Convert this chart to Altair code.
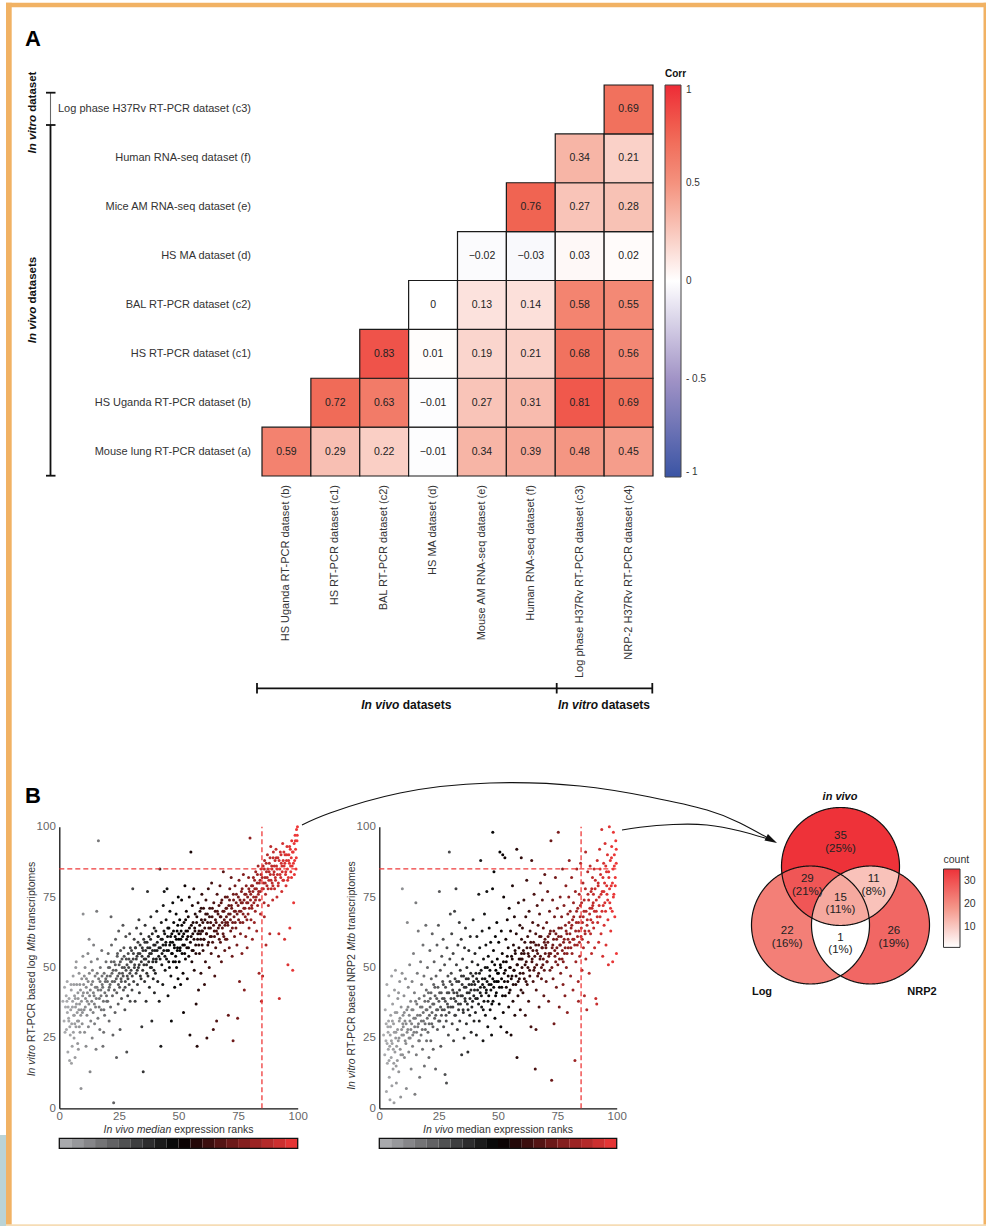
import altair as alt
import numpy as np
import pandas as pd

W, H = 986, 1226
FONT = "Liberation Sans"

# ---------------- Panel A : correlation matrix ----------------
COLS = ["b", "c1", "c2", "d", "e", "f", "c3", "c4"]
COL_LABELS = ["HS Uganda RT-PCR dataset (b)", "HS RT-PCR dataset (c1)", "BAL RT-PCR dataset (c2)",
              "HS MA dataset (d)", "Mouse AM RNA-seq dataset (e)", "Human RNA-seq dataset (f)",
              "Log phase H37Rv RT-PCR dataset (c3)", "NRP-2 H37Rv RT-PCR dataset (c4)"]
ROWS = ["a", "b", "c1", "c2", "d", "e", "f", "c3"]          # bottom -> top
ROW_LABELS = ["Mouse lung RT-PCR dataset (a)", "HS Uganda RT-PCR dataset (b)", "HS RT-PCR dataset (c1)",
              "BAL RT-PCR dataset (c2)", "HS MA dataset (d)", "Mice AM RNA-seq dataset (e)",
              "Human RNA-seq dataset (f)", "Log phase H37Rv RT-PCR dataset (c3)"]
CORR_a = [0.59, 0.29, 0.22, -0.01, 0.34, 0.39, 0.48, 0.45]
CORR_b = [0.72, 0.63, -0.01, 0.27, 0.31, 0.81, 0.69]
CORR_c1 = [0.83, 0.01, 0.19, 0.21, 0.68, 0.56]
CORR_c2 = [0.00, 0.13, 0.14, 0.58, 0.55]
CORR_d = [-0.02, -0.03, 0.03, 0.02]
CORR_e = [0.76, 0.27, 0.28]
CORR_f = [0.34, 0.21]
CORR_c3 = [0.69]
CORR_ROWS = [CORR_a, CORR_b, CORR_c1, CORR_c2, CORR_d, CORR_e, CORR_f, CORR_c3]
CORR_TICKS = [-1, -0.5, 0, 0.5, 1]

# ---------------- Panel B : scatter data (x = in vivo rank, y = in vitro rank) ----------------
LOG_POINTS = [
 (2.2,43),(2.6,36),(3.0,28),(3.3,45),(3.6,20),(3.9,32),(4.1,39),(4.3,17),(4.6,26),(4.8,35),(5.0,42),(5.2,30),
 (5.4,22),(5.6,38),(5.8,47),(6.0,33),(6.2,25),(6.4,40),(6.6,18),(6.8,36),(7.0,29),(7.1,52),(7.3,44),(7.5,34),
 (7.7,23),(7.9,39),(8.1,31),(8.3,48),(8.5,37),(8.7,27),(8.9,42),(9.1,7),(9.2,35),(9.4,46),(9.6,30),(9.8,40),
 (9.9,54),(5.1,16),(6.9,50),(4.0,31),(8.0,21),(3.2,38),(6.1,44),(7.8,41),(9.0,33),
 (10.2,44),(10.4,35),(10.6,27),(10.8,50),(11.0,39),(11.2,22),(11.4,46),(11.6,33),(11.8,41),(12.0,55),(12.2,29),
 (12.4,37),(12.6,48),(12.9,13),(13.0,42),(13.2,31),(13.4,52),(13.6,38),(13.8,25),(14.0,45),(14.2,34),(14.4,58),
 (14.6,40),(14.8,30),(15.0,47),(15.2,36),(15.4,21),(15.7,70),(15.8,43),(16.0,53),(16.2,32),(16.4,95),(16.5,46),
 (16.8,39),(17.0,28),(17.2,50),(17.4,42),(17.6,35),(17.8,56),(18.0,44),(18.3,22),(18.5,38),(18.8,48),(19.0,33),
 (19.3,45),(19.6,52),(19.8,40),(10.0,69),(12.5,60),(18.6,27),
 (20.1,47),(20.3,38),(20.5,55),(20.7,42),(20.9,31),(21.1,50),(21.3,44),(21.5,36),(21.7,68),(21.9,58),(22.1,48),
 (22.3,40),(22.5,26),(22.8,2),(23.0,52),(23.2,45),(23.4,34),(23.6,60),(23.8,49),(24.0,18),(24.1,41),(24.3,54),
 (24.5,47),(24.7,37),(24.9,63),(25.1,51),(25.3,43),(25.5,28),(25.7,56),(25.9,46),(26.1,39),(26.3,53),(26.5,48),
 (26.7,65),(26.9,42),(27.1,57),(27.3,50),(27.5,35),(27.7,45),(27.9,61),(28.1,53),(28.3,20),(28.5,47),(28.7,40),
 (28.9,55),(29.1,50),(29.3,44),(29.5,62),(29.7,38),(29.9,52),
 (30.1,49),(30.3,56),(30.5,42),(30.8,78),(31.0,53),(31.2,45),(31.4,60),(31.6,51),(31.8,38),(32.0,57),(32.2,48),
 (32.4,64),(32.6,54),(32.8,44),(33.0,59),(33.2,50),(33.4,67),(33.6,41),(33.8,55),(34.0,47),(34.2,62),(34.4,52),
 (34.6,29),(34.8,57),(35.0,49),(35.2,13),(35.4,60),(35.6,53),(35.8,45),(36.0,65),(36.2,56),(36.4,38),(36.6,51),
 (36.8,59),(37.0,77),(37.2,47),(37.4,54),(37.6,61),(37.8,43),(38.0,57),(38.2,50),(38.4,68),(38.6,55),(38.8,31),
 (39.0,62),(39.2,52),(39.4,46),(39.6,58),(39.8,64),(39.9,41),
 (40.1,56),(40.3,48),(40.5,63),(40.7,53),(40.9,70),(41.1,59),(41.3,45),(41.5,61),(41.7,54),(41.9,38),(42.2,85),
 (42.4,57),(42.6,22),(42.8,66),(43.0,51),(43.2,60),(43.4,44),(43.6,72),(43.8,56),(44.0,77),(44.2,62),(44.4,49),
 (44.6,58),(44.8,67),(45.0,53),(45.2,78),(45.4,61),(45.6,40),(45.8,56),(46.0,64),(46.2,50),(46.4,70),(46.6,59),
 (46.8,47),(47.0,31),(47.2,62),(47.4,55),(47.6,73),(47.8,52),(48.0,66),(48.2,58),(48.4,43),(48.6,61),(48.8,54),
 (49.0,69),(49.2,50),(49.4,63),(49.6,57),(49.8,46),(49.9,75),
 (50.1,60),(50.3,52),(50.5,67),(50.7,57),(50.9,44),(51.1,63),(51.3,74),(51.5,55),(51.7,61),(51.9,48),(52.1,34),
 (52.3,66),(52.5,58),(52.7,79),(52.9,53),(53.1,63),(53.3,70),(53.5,57),(53.7,46),(53.9,61),(54.1,68),(54.3,54),
 (54.5,75),(54.8,26),(55.0,59),(55.2,91),(55.4,65),(55.6,52),(55.8,72),(56.0,62),(56.2,56),(56.4,78),(56.6,49),
 (56.8,64),(57.0,69),(57.2,58),(57.4,37),(57.6,66),(57.8,22),(58.0,60),(58.2,73),(58.4,42),(58.6,63),(58.8,55),
 (59.0,70),(59.2,62),(59.4,48),(59.6,67),(59.8,76),(59.9,58),
 (60.1,63),(60.3,56),(60.5,71),(60.7,60),(60.9,44),(61.1,67),(61.3,52),(61.5,74),(61.7,62),(61.9,25),(62.1,69),
 (62.3,58),(62.5,78),(62.7,64),(62.9,50),(63.1,71),(63.3,61),(63.5,66),(63.7,55),(63.9,80),(64.1,68),(64.3,59),
 (64.6,28),(64.8,73),(65.0,63),(65.2,47),(65.4,70),(65.6,57),(65.8,66),(66.0,31),(66.2,76),(66.4,62),(66.6,69),
 (66.8,54),(67.0,72),(67.2,65),(67.4,79),(67.6,59),(67.8,68),(68.0,52),(68.2,74),(68.4,64),(68.6,70),(68.8,84),
 (69.0,61),(69.2,67),(69.4,56),(69.6,75),(69.8,66),(69.9,71),
 (70.1,68),(70.3,60),(70.5,75),(70.7,65),(70.9,33),(71.1,72),(71.3,57),(71.5,78),(71.7,69),(71.9,63),(72.1,82),
 (72.3,71),(72.5,54),(72.7,66),(72.9,24),(73.1,74),(73.3,68),(73.5,61),(73.7,79),(73.9,70),(74.1,64),(74.3,76),
 (74.5,58),(74.8,32),(75.0,72),(75.2,67),(75.4,81),(75.6,45),(75.8,74),(76.0,62),(76.2,70),(76.4,77),(76.6,55),
 (76.8,73),(77.0,66),(77.2,83),(77.4,71),(77.6,42),(77.8,76),(78.0,68),(78.2,61),(78.4,79),(78.6,73),(78.8,57),
 (79.0,75),(79.2,69),(79.4,82),(79.6,64),(79.8,77),(80.0,96),
 (80.2,74),(80.4,67),(80.6,79),(80.8,71),(81.0,60),(81.2,77),(81.4,82),(81.6,73),(81.8,66),(82.0,78),(82.2,70),
 (82.4,84),(82.6,75),(82.8,63),(83.0,80),(83.2,72),(83.4,86),(83.6,77),(83.8,48),(84.0,74),(84.2,81),(84.4,69),
 (84.6,83),(84.8,38),(85.0,78),(85.3,47),(85.5,86),(85.7,80),(85.9,73),(86.1,88),(86.3,82),(86.5,76),(86.7,58),
 (86.9,84),(87.1,79),(87.3,90),(87.5,85),(87.7,72),(87.9,81),(88.1,87),(88.3,62),(88.5,83),(88.7,93),(88.9,78),
 (89.1,86),(89.3,80),(89.5,74),(89.7,89),(89.9,83),(86.0,68),
 (90.1,84),(90.3,78),(90.5,88),(90.7,81),(90.9,92),(91.1,86),(91.3,75),(91.5,83),(91.7,89),(91.9,80),(92.1,62),
 (92.3,39),(92.5,85),(92.7,91),(92.9,82),(93.1,87),(93.3,77),(93.5,84),(93.7,94),(93.9,88),(94.1,81),(94.3,86),
 (94.5,60),(94.7,90),(94.9,83),(95.1,79),(95.3,88),(95.5,93),(95.7,85),(95.9,51),(96.1,82),(96.3,90),(96.5,87),
 (96.7,64),(96.9,92),(97.1,84),(97.3,89),(97.5,95),(97.7,86),(97.9,49),(98.1,91),(98.3,73),(98.5,94),(98.7,88),
 (98.9,97),(99.1,92),(99.3,85),(99.5,99),(99.7,95),(99.9,100),
]
LOG_CORE = [
 (1.5,38),(2.0,31),(2.9,40),(3.4,34),(4.4,29),(4.9,44),(5.5,36),(5.9,27),(6.3,33),(6.7,39),(7.2,37),(7.6,31),
 (8.2,35),(8.6,44),(9.3,38),(9.7,34),(3.7,36),(6.5,30),(8.4,29),(2.4,27),
 (10.1,41),(10.5,47),(10.9,36),(11.3,43),(11.7,38),(12.1,45),(12.7,40),(13.1,35),(13.5,44),(13.9,49),(14.3,41),
 (14.7,37),(15.1,43),(15.5,39),(15.9,48),(16.3,42),(16.7,36),(17.1,45),(17.5,40),(17.9,47),(18.2,43),(18.7,35),
 (19.1,41),(19.5,46),(19.9,38),
 (20.2,45),(20.6,50),(21.0,43),(21.4,47),(21.8,52),(22.2,45),(22.6,49),(23.1,42),(23.5,51),(23.9,46),(24.4,55),
 (24.8,44),(25.2,48),(25.6,52),(26.0,45),(26.4,50),(26.8,47),(27.2,54),(27.6,43),(28.0,49),(28.4,51),(28.8,46),
 (29.2,53),(29.6,48),(29.8,57),
 (30.2,52),(30.6,47),(31.1,55),(31.5,50),(31.9,57),(32.3,53),(32.7,49),(33.1,55),(33.5,51),(33.9,58),(34.3,46),
 (34.7,54),(35.1,56),(35.5,51),(35.9,59),(36.3,53),(36.7,48),(37.1,57),(37.5,52),(37.9,55),(38.3,60),(38.7,50),
 (39.1,56),(39.5,53),(39.7,49),
 (40.2,58),(40.6,52),(41.0,56),(41.4,61),(41.8,57),(42.3,53),(42.7,60),(43.1,55),(43.5,58),(43.9,63),(44.3,54),
 (44.7,59),(45.1,56),(45.5,64),(45.9,52),(46.3,58),(46.7,61),(47.1,55),(47.5,59),(47.9,63),(48.3,57),(48.7,52),
 (49.1,60),(49.5,56),(49.7,65),
 (50.2,62),(50.6,56),(51.0,60),(51.4,65),(51.8,58),(52.2,62),(52.6,55),(53.0,67),(53.4,60),(53.8,63),(54.2,57),
 (54.6,64),(55.3,61),(55.7,56),(56.1,66),(56.5,60),(56.9,63),(57.3,55),(57.7,68),(58.1,62),(58.5,58),(58.9,65),
 (59.3,60),(59.7,63),(59.5,71),
 (60.2,66),(60.6,60),(61.0,64),(61.4,69),(61.8,62),(62.2,66),(62.6,59),(63.0,68),(63.4,64),(63.8,61),(64.2,71),
 (64.7,65),(65.1,61),(65.5,67),(65.9,63),(66.3,70),(66.7,64),(67.1,60),(67.5,68),(67.9,73),(68.3,66),(68.7,62),
 (69.1,70),(69.5,65),(69.7,60),
 (70.2,71),(70.6,66),(71.0,69),(71.4,74),(71.8,67),(72.2,72),(72.6,64),(73.0,76),(73.4,70),(73.8,66),(74.2,73),
 (74.6,69),(75.1,75),(75.5,70),(75.9,66),(76.3,73),(76.7,78),(77.1,69),(77.5,74),(77.9,71),(78.3,76),(78.7,67),
 (79.1,73),(79.5,78),(79.7,71),
 (80.3,76),(80.7,72),(81.1,79),(81.5,75),(81.9,81),(82.3,74),(82.7,78),(83.1,83),(83.5,76),(83.9,80),(84.3,77),
 (84.7,85),(85.1,82),(85.6,78),(86.0,85),(86.4,80),(86.8,87),(87.2,82),(87.6,78),(88.0,84),(88.4,89),(88.8,81),
 (89.2,85),(89.6,79),(89.8,91),
 (90.2,86),(90.6,82),(91.0,89),(91.4,85),(91.8,79),(92.2,88),(92.6,83),(93.0,90),(93.4,86),(93.8,81),(94.2,91),
 (94.6,87),(95.0,84),(95.4,90),(95.8,81),(96.2,88),(96.6,93),(97.0,86),(97.4,82),(97.8,91),(98.2,87),(98.6,83),
 (99.0,95),(99.4,89),(99.8,97),
]

NRP2_POINTS = [
 (2.5,35),(2.8,24),(3.0,6),(3.2,44),(3.4,16),(3.6,29),(3.8,21),(4.0,40),(4.2,11),(4.5,3),(4.6,26),(4.8,33),
 (5.0,18),(5.2,47),(5.4,23),(5.6,37),(5.8,14),(6.0,30),(6.2,2),(6.4,42),(6.6,20),(6.8,49),(7.0,27),(7.2,9),
 (7.4,34),(7.6,17),(7.8,39),(8.0,24),(8.2,13),(8.4,31),(8.6,45),(8.8,21),(9.0,4),(9.2,36),(9.4,28),(9.6,48),
 (9.7,78),(9.8,19),(10.0,33),(5.3,8),(6.9,25),(3.9,31),(8.1,41),(4.4,22),(7.1,15),
 (10.2,26),(10.4,40),(10.6,18),(10.8,31),(11.0,46),(11.2,23),(11.4,7),(11.6,35),(11.8,66),(12.0,28),(12.2,43),
 (12.4,20),(12.6,33),(12.8,51),(13.0,25),(13.2,38),(13.4,14),(13.6,30),(13.8,45),(14.0,22),(14.2,35),(14.4,55),
 (14.6,27),(14.8,41),(15.0,5),(15.2,32),(15.4,73),(15.6,19),(15.8,37),(16.0,48),(16.2,29),(16.4,63),(16.6,24),
 (16.8,39),(17.0,11),(17.2,33),(17.4,52),(17.6,26),(17.8,44),(18.0,36),(18.2,21),(18.4,58),(18.6,31),(18.8,47),
 (19.0,15),(19.2,38),(19.4,28),(19.6,65),(19.8,42),(19.9,24),
 (20.1,35),(20.3,50),(20.5,27),(20.7,41),(20.9,18),(21.1,33),(21.3,56),(21.5,39),(21.7,24),(21.9,46),(22.1,30),
 (22.3,62),(22.5,37),(22.7,21),(22.9,44),(23.1,52),(23.3,32),(23.5,40),(23.7,14),(23.9,47),(24.1,35),(24.3,58),
 (24.5,28),(24.7,43),(24.9,65),(25.1,38),(25.3,77),(25.5,31),(25.7,49),(25.9,22),(26.1,41),(26.3,54),(26.5,35),
 (26.7,45),(26.9,60),(27.1,29),(27.3,39),(27.5,51),(27.7,12),(27.9,43),(28.1,33),(28.3,9),(28.5,57),(28.7,37),
 (28.9,47),(29.1,26),(29.3,41),(29.5,91),(29.7,53),(29.9,69),
 (30.1,36),(30.3,48),(30.5,62),(30.7,30),(30.9,42),(31.1,55),(31.3,24),(31.5,39),(31.7,70),(31.9,46),(32.1,33),
 (32.3,78),(32.5,51),(32.7,41),(32.9,28),(33.1,58),(33.3,37),(33.5,45),(33.7,66),(33.9,31),(34.1,49),(34.3,40),
 (34.5,60),(34.7,19),(34.9,44),(35.1,53),(35.3,35),(35.5,47),(35.7,25),(35.9,57),(36.1,39),(36.3,64),(36.5,43),
 (36.7,30),(36.9,50),(37.1,37),(37.3,20),(37.5,46),(37.7,56),(37.9,41),(38.1,33),(38.3,61),(38.5,48),(38.7,27),
 (38.9,44),(39.1,52),(39.3,38),(39.5,67),(39.7,45),(39.9,31),
 (40.1,42),(40.3,55),(40.5,34),(40.7,48),(40.9,26),(41.1,61),(41.3,39),(41.5,51),(41.7,45),(41.9,76),(42.1,31),
 (42.3,57),(42.5,41),(42.7,88),(42.9,49),(43.1,36),(43.3,63),(43.5,44),(43.7,24),(43.9,53),(44.1,38),(44.3,69),
 (44.5,46),(44.7,33),(44.9,58),(45.1,42),(45.3,77),(45.5,50),(45.7,29),(45.9,54),(46.1,40),(46.3,64),(46.5,47),
 (46.7,35),(46.9,59),(47.1,44),(47.3,26),(47.5,52),(47.7,78),(47.8,98),(47.9,38),(48.1,56),(48.3,84),(48.5,45),
 (48.7,32),(48.9,61),(49.1,49),(49.3,41),(49.5,66),(49.7,53),
 (50.1,45),(50.3,59),(50.5,37),(50.8,91),(51.0,51),(51.2,29),(51.4,63),(51.6,43),(51.8,55),(52.0,90),(52.2,34),
 (52.4,75),(52.6,48),(52.9,89),(53.1,40),(53.3,60),(53.5,52),(53.7,27),(53.9,67),(54.1,45),(54.3,57),(54.5,36),
 (54.7,71),(54.9,50),(55.1,42),(55.3,63),(55.5,26),(55.7,54),(55.9,47),(56.1,79),(56.3,38),(56.5,58),(56.7,49),
 (56.9,68),(57.1,33),(57.3,55),(57.5,44),(57.7,62),(57.9,92),(58.0,18),(58.2,51),(58.4,40),(58.6,73),(58.8,57),
 (59.0,46),(59.2,65),(59.4,35),(59.6,53),(59.8,89),(59.9,60),
 (60.1,50),(60.3,64),(60.5,41),(60.7,56),(60.9,74),(61.1,46),(61.3,59),(61.5,33),(61.7,68),(61.9,52),(62.1,81),
 (62.3,44),(62.5,61),(62.7,55),(62.9,38),(63.1,70),(63.3,49),(63.5,63),(63.7,57),(63.9,29),(64.2,88),(64.4,53),
 (64.6,66),(64.8,45),(65.0,59),(65.2,76),(65.4,50),(65.7,14),(65.9,62),(66.1,42),(66.3,56),(66.5,72),(66.7,47),
 (66.9,65),(67.1,58),(67.3,36),(67.5,69),(67.7,53),(67.9,80),(68.1,61),(68.3,46),(68.5,57),(68.7,74),(68.9,51),
 (69.1,64),(69.3,40),(69.5,59),(69.7,83),(69.9,55),(66.0,28),
 (70.1,58),(70.3,45),(70.5,66),(70.7,52),(70.9,77),(71.1,61),(71.3,38),(71.5,55),(71.7,70),(71.9,49),(72.1,63),
 (72.3,95),(72.6,10),(72.8,57),(73.0,74),(73.2,46),(73.4,60),(73.6,30),(73.8,68),(74.0,54),(74.2,82),(74.4,62),
 (74.6,43),(74.8,57),(75.0,71),(75.2,51),(75.4,98),(75.6,64),(75.8,36),(76.0,58),(76.2,75),(76.4,48),(76.6,61),
 (76.8,68),(77.0,53),(77.2,85),(77.4,44),(77.6,59),(77.8,72),(78.0,55),(78.2,40),(78.4,65),(78.6,79),(78.8,50),
 (79.0,62),(79.2,34),(79.4,69),(79.6,57),(79.8,75),(80.0,88),
 (80.2,59),(80.4,70),(80.6,47),(80.8,64),(81.0,82),(81.2,55),(81.4,67),(81.6,42),(81.8,73),(82.0,60),(82.4,17),
 (82.6,77),(82.8,52),(83.0,66),(83.2,85),(83.4,58),(83.6,71),(83.8,45),(84.0,63),(84.2,76),(84.4,54),(84.6,68),
 (84.8,87),(85.0,61),(85.2,73),(85.4,49),(85.6,66),(85.8,80),(86.0,57),(86.2,70),(86.4,40),(86.6,63),(86.8,78),
 (87.0,53),(87.4,35),(87.6,67),(87.8,84),(88.0,59),(88.2,74),(88.4,48),(88.6,69),(88.8,86),(89.0,62),(89.2,77),
 (89.4,55),(89.6,71),(89.8,82),(89.9,66),(83.9,38),(86.9,91),
 (90.1,73),(90.3,64),(90.5,85),(90.7,57),(90.9,78),(91.2,39),(91.4,70),(91.6,37),(91.8,88),(92.0,66),(92.2,80),
 (92.4,59),(92.6,75),(92.8,92),(93.0,68),(93.2,83),(93.4,62),(93.7,99),(93.9,77),(94.1,54),(94.3,72),(94.5,87),
 (94.7,65),(94.9,80),(95.1,94),(95.3,70),(95.5,58),(95.7,84),(95.9,76),(96.1,90),(96.3,67),(96.5,51),(96.7,82),
 (96.9,100),(97.1,73),(97.3,88),(97.5,63),(97.7,79),(97.9,93),(98.1,70),(98.3,52),(98.5,85),(98.6,98),(98.8,76),
 (99.0,90),(99.2,68),(99.4,82),(99.6,95),(99.8,87),(99.9,55),
]
NRP2_CORE = [
 (1.8,26),(2.3,19),(2.9,30),(3.3,23),(3.7,27),(4.1,17),(4.7,29),(5.1,24),(5.5,31),(5.9,21),(6.3,27),(6.7,34),
 (7.3,22),(7.7,28),(8.3,25),(8.7,32),(9.1,19),(9.5,26),(9.9,30),(6.1,16),
 (10.1,29),(10.5,34),(10.9,24),(11.3,30),(11.7,27),(12.1,36),(12.5,25),(12.9,31),(13.3,28),(13.7,35),(14.1,26),
 (14.5,32),(14.9,29),(15.3,38),(15.7,27),(16.1,33),(16.5,30),(16.9,24),(17.3,36),(17.7,31),(18.1,28),(18.5,34),
 (18.9,40),(19.3,30),(19.7,35),
 (20.2,32),(20.6,38),(21.0,30),(21.4,36),(21.8,41),(22.2,34),(22.6,29),(23.0,37),(23.4,43),(23.8,33),(24.2,39),
 (24.6,35),(25.0,31),(25.4,41),(25.8,36),(26.2,33),(26.6,39),(27.0,44),(27.4,35),(27.8,38),(28.2,31),(28.6,41),
 (29.0,36),(29.4,34),(29.8,45),
 (30.2,39),(30.6,44),(31.0,36),(31.4,41),(31.8,33),(32.2,38),(32.6,45),(33.0,40),(33.4,35),(33.8,42),(34.2,37),
 (34.6,47),(35.0,40),(35.4,34),(35.8,43),(36.2,38),(36.6,46),(37.0,41),(37.4,35),(37.8,44),(38.2,39),(38.6,42),
 (39.0,36),(39.4,47),(39.8,40),
 (40.2,44),(40.6,39),(41.0,46),(41.4,42),(41.8,37),(42.2,48),(42.6,43),(43.0,40),(43.4,46),(43.8,35),(44.2,43),
 (44.6,50),(45.0,41),(45.4,45),(45.8,38),(46.2,44),(46.6,49),(47.0,42),(47.4,37),(47.8,46),(48.2,43),(48.6,51),
 (49.0,40),(49.4,45),(49.8,48),
 (50.2,48),(50.6,43),(51.1,50),(51.5,46),(51.9,40),(52.3,52),(52.7,45),(53.1,49),(53.5,43),(53.9,54),(54.3,47),
 (54.7,41),(55.2,50),(55.6,46),(56.0,53),(56.4,44),(56.8,49),(57.2,56),(57.6,47),(58.0,51),(58.5,45),(58.9,53),
 (59.3,48),(59.7,42),(59.9,55),
 (60.2,53),(60.6,48),(61.0,55),(61.4,51),(61.8,45),(62.2,57),(62.6,50),(63.0,54),(63.4,47),(63.8,59),(64.3,52),
 (64.7,56),(65.1,49),(65.5,54),(65.9,58),(66.3,51),(66.7,55),(67.1,48),(67.5,61),(67.9,54),(68.3,50),(68.7,57),
 (69.1,53),(69.5,49),(69.8,60),
 (70.2,57),(70.6,52),(71.0,59),(71.4,54),(71.8,62),(72.2,55),(72.7,50),(73.1,58),(73.5,63),(73.9,56),(74.3,52),
 (74.7,60),(75.1,55),(75.5,61),(75.9,53),(76.3,58),(76.7,64),(77.1,56),(77.5,52),(77.9,60),(78.3,57),(78.7,63),
 (79.1,55),(79.5,60),(79.9,66),
 (80.3,62),(80.7,57),(81.1,65),(81.5,60),(81.9,68),(82.3,58),(82.7,63),(83.1,70),(83.5,61),(83.9,66),(84.3,59),
 (84.7,72),(85.1,64),(85.5,60),(85.9,68),(86.3,74),(86.7,62),(87.1,70),(87.5,65),(87.9,76),(88.3,63),(88.7,71),
 (89.1,67),(89.5,78),(89.9,72),
 (90.2,76),(90.6,70),(91.0,81),(91.4,74),(91.8,68),(92.2,79),(92.6,72),(93.0,85),(93.4,76),(93.8,70),(94.2,82),
 (94.6,77),(95.0,73),(95.4,86),(95.8,79),(96.2,74),(96.6,84),(97.0,78),(97.4,71),(97.8,89),(98.2,80),(98.6,75),
 (99.0,86),(99.4,79),(99.8,92),
]
AXIS_TICKS = [0, 25, 50, 75, 100]
CUTOFF = 85

# ---------------- Panel B : Venn counts ----------------
VENN_KEYS = ["L", "R", "T", "TL", "TR", "LR", "TLR"]       # paint order
VENN_COUNT = [22, 26, 35, 29, 11, 1, 15]
VENN_PCT = ["16%", "19%", "25%", "21%", "8%", "1%", "11%"]
COUNT_TICKS = [10, 20, 30]

# ---------------- layout (pixels) ----------------
HEAT_X = [262, 653]
HEAT_Y = [85, 476]
S1_X = [59.3, 297.7]
S2_X = [379.3, 616.7]
S_Y = [1108.3, 826.7]
CB_Y = [1138.3, 1148.3]
VC = {"T": (840.5, 866.5), "L": (810.5, 925.0), "R": (870.5, 925.0)}
VR = 59.0
CORR_BAR = dict(x=665, y=86, len=392, thick=16)
COUNT_BAR = dict(x=943.5, y=869, len=78.4, thick=16.5)

# ---------------- text width helper (Arial / Liberation Sans metrics) ----------------
_REG = dict(zip("ABCDEFGHIJKLMNOPQRSTUVWXYZ",
                [667, 667, 722, 722, 667, 611, 778, 722, 278, 500, 667, 556, 833, 722, 778, 667, 778, 722, 667, 611, 722, 667, 944, 667, 667, 611]))
_REG.update(zip("abcdefghijklmnopqrstuvwxyz",
                [556, 556, 500, 556, 556, 278, 556, 556, 222, 222, 500, 222, 833, 556, 556, 556, 556, 333, 500, 278, 556, 500, 722, 500, 500, 500]))
_BOLD = dict(zip("ABCDEFGHIJKLMNOPQRSTUVWXYZ",
                 [722, 722, 722, 722, 667, 611, 778, 722, 278, 556, 722, 611, 833, 722, 778, 667, 778, 722, 667, 611, 722, 667, 944, 667, 667, 611]))
_BOLD.update(zip("abcdefghijklmnopqrstuvwxyz",
                 [556, 611, 556, 611, 556, 333, 611, 611, 278, 278, 556, 278, 889, 611, 611, 611, 611, 389, 556, 333, 611, 556, 778, 556, 556, 500]))
for _t in (_REG, _BOLD):
    _t.update({" ": 278, "-": 333, "(": 333, ")": 333, "%": 889, ".": 278})


def tw(s, size, bold=False):
    tab = _BOLD if bold else _REG
    return sum(tab.get(ch, 556) for ch in s) * size / 1000.0


def text_layer(rows, size, weight="normal", style="normal", align="left", angle=0,
               baseline="middle", color="#222"):
    df = pd.DataFrame(rows, columns=["px", "py", "t"])
    return alt.Chart(df).mark_text(font=FONT, fontSize=size, fontWeight=weight, fontStyle=style,
                                   align=align, angle=angle, baseline=baseline, color=color).encode(
        x=alt.X("px:Q", scale=None, axis=None), y=alt.Y("py:Q", scale=None, axis=None), text="t:N")


def mixed(segments, cx, cy, size, bold=False, angle=0, color="#222"):
    """segments: list of (text, italic); centred on (cx, cy); angle 270 reads upward."""
    full = sum(tw(t, size, bold) for t, _ in segments)
    pos = -full / 2
    out = []
    for t, it in segments:
        lead = len(t) - len(t.lstrip(" "))
        off = pos + tw(" " * lead, size, bold)
        if angle == 0:
            px, py = cx + off, cy
        else:
            px, py = cx, cy - off
        out.append(text_layer([(px, py, t.strip(" "))], size, weight="bold" if bold else "normal",
                              style="italic" if it else "normal", align="left", angle=angle, color=color))
        pos += tw(t, size, bold)
    return out


def rules(rows, color="#111", width=1.6):
    df = pd.DataFrame(rows, columns=["x1", "y1", "x2", "y2"])
    return alt.Chart(df).mark_rule(color=color, strokeWidth=width).encode(
        x=alt.X("x1:Q", scale=None, axis=None), y=alt.Y("y1:Q", scale=None, axis=None), x2="x2:Q", y2="y2:Q")


def boxes(rows, color):
    df = pd.DataFrame(rows, columns=["x1", "y1", "x2", "y2"])
    return alt.Chart(df).mark_rect(color=color).encode(
        x=alt.X("x1:Q", scale=None, axis=None), y=alt.Y("y1:Q", scale=None, axis=None), x2="x2:Q", y2="y2:Q")


def bar_ticks(values, domain, bar):
    """small inner tick marks on a colour bar, positioned through a linear scale"""
    df = pd.DataFrame({"v": values})
    sc = alt.Scale(domain=domain, range=[bar["y"] + bar["len"], bar["y"]], nice=False, zero=False)
    out = []
    for x1, x2 in ((bar["x"], bar["x"] + 2.6), (bar["x"] + bar["thick"] - 2.6, bar["x"] + bar["thick"])):
        out.append(alt.Chart(df).mark_rule(color="#111", strokeWidth=1).encode(
            y=alt.Y("v:Q", scale=sc, axis=None), x=alt.value(x1), x2=alt.value(x2)))
    return out


layers = []

# ---------------- frame ----------------
layers.append(boxes([(0, 1135, 6, H)], "#bad3d6"))
layers.append(boxes([(6, 2.7, 986, 7.3), (6, 2.7, 11.7, H), (983.5, 2.7, 986, H)], "#f1b264"))
layers.append(boxes([(6, 1224.3, 986, H)], "#f6dcb5"))

# ---------------- Panel A heatmap ----------------
recs = []
for r, vals in zip(ROWS, CORR_ROWS):
    for c, v in zip(COLS[len(COLS) - len(vals):], vals):
        lab = "0" if v == 0 else f"{v:.2f}".replace("-", "\u2212")
        recs.append({"row": r, "col": c, "value": v, "label": lab})
heat_df = pd.DataFrame(recs)

ROWS_TOP = ROWS[::-1]


def hx():
    return alt.Scale(domain=COLS, range=HEAT_X, paddingInner=0, paddingOuter=0)


def hy():
    return alt.Scale(domain=ROWS_TOP, range=HEAT_Y, paddingInner=0, paddingOuter=0)


corr_scale = alt.Scale(domain=[-1, -0.5, 0, 0.25, 0.5, 0.75, 1],
                       range=["#3a54a4", "#a193c6", "#ffffff", "#f9c8bd", "#f4927e", "#f06653", "#ee2b36"],
                       interpolate="rgb")

layers.append(alt.Chart(heat_df).mark_rect(stroke="#1a1a1a", strokeWidth=1.2).encode(
    x=alt.X("col:N", scale=hx(), axis=None),
    y=alt.Y("row:N", scale=hy(), axis=None),
    color=alt.Color("value:Q", scale=corr_scale, legend=alt.Legend(
        title="Corr", orient="none", legendX=CORR_BAR["x"], legendY=69, direction="vertical",
        gradientLength=CORR_BAR["len"], gradientThickness=CORR_BAR["thick"], values=CORR_TICKS,
        labelExpr="datum.value < 0 ? '- ' + format(-datum.value, '~g') : format(datum.value, '~g')",
        titleFont=FONT, titleFontSize=10, titleFontWeight="bold", titleColor="#111", titlePadding=6,
        labelFont=FONT, labelFontSize=10, labelColor="#333", labelOffset=5,
        gradientStrokeColor="#444", gradientStrokeWidth=1, padding=0))))
layers += bar_ticks([-0.5, 0, 0.5], [-1, 1], CORR_BAR)

layers.append(alt.Chart(heat_df).mark_text(font=FONT, fontSize=10.5, color="#222").encode(
    x=alt.X("col:N", scale=hx(), axis=None),
    y=alt.Y("row:N", scale=hy(), axis=None),
    text="label:N"))

row_df = pd.DataFrame({"row": ROWS, "name": ROW_LABELS})
layers.append(alt.Chart(row_df).mark_text(font=FONT, fontSize=11, color="#333", align="right").encode(
    x=alt.value(251), y=alt.Y("row:N", scale=hy(), axis=None), text="name:N"))

col_df = pd.DataFrame({"col": COLS, "name": COL_LABELS})
layers.append(alt.Chart(col_df).mark_text(font=FONT, fontSize=11, color="#333", align="right",
                                          angle=270, baseline="middle").encode(
    x=alt.X("col:N", scale=hx(), axis=None), y=alt.value(485), text="name:N"))

# brackets
layers.append(rules([(50.5, 92.7, 50.5, 125)], color="#666", width=1.1))
layers.append(rules([(50.5, 125, 50.5, 475.7),
                     (46, 92.7, 55.5, 92.7), (46, 125, 55.5, 125), (46, 475.7, 55.5, 475.7),
                     (256.7, 688.3, 652.3, 688.3),
                     (257, 683, 257, 693.5), (556.7, 683, 556.7, 693.5), (652.3, 683, 652.3, 693.5)],
                    color="#111", width=1.8))
layers += mixed([("In vitro", True), (" dataset", False)], 32.5, 112.5, 11.5, bold=True, angle=270, color="#111")
layers += mixed([("In vivo", True), (" datasets", False)], 32.5, 300, 11.5, bold=True, angle=270, color="#111")
layers += mixed([("In vivo", True), (" datasets", False)], 406.3, 705, 12, bold=True, color="#111")
layers += mixed([("In vitro", True), (" datasets", False)], 604, 705, 12, bold=True, color="#111")

layers.append(text_layer([(25, 46, "A"), (25, 803, "B")], 22, weight="bold", baseline="alphabetic", color="#000"))

# ---------------- Panel B scatters ----------------
grad_scale = dict(domain=[0, 50, 100], range=["#b2b3b6", "#000000", "#f03838"], interpolate="rgb")


def scatter(points, xr, ytitle, ycenter, xtitle):
    df = pd.DataFrame(points, columns=["x", "y"])

    def sx():
        return alt.Scale(domain=[0, 100], range=xr, nice=False, zero=False)

    def sy():
        return alt.Scale(domain=[0, 100], range=S_Y, nice=False, zero=False)

    out = []
    out.append(alt.Chart(df).mark_circle(size=9, opacity=1).encode(
        x=alt.X("x:Q", scale=sx(), axis=alt.Axis(
            orient="bottom", offset=S_Y[0] - H, values=AXIS_TICKS, ticks=False, grid=False, title=None,
            labelFlush=False, labelOverlap=False, labelFont=FONT, labelFontSize=11.5, labelColor="#666",
            labelPadding=2, domainColor="#111", domainWidth=1.3)),
        y=alt.Y("y:Q", scale=sy(), axis=alt.Axis(
            orient="left", offset=-xr[0], values=AXIS_TICKS, ticks=False, grid=False, title=None,
            labelFlush=False, labelOverlap=False, labelFont=FONT, labelFontSize=11.5, labelColor="#666",
            labelPadding=4, domainColor="#111", domainWidth=1.3)),
        color=alt.Color("x:Q", scale=alt.Scale(**grad_scale), legend=None)))
    vdf = pd.DataFrame({"x": [CUTOFF], "y0": [0], "y1": [100]})
    out.append(alt.Chart(vdf).mark_rule(color="#ee3a3a", strokeWidth=1.3, strokeDash=[5, 3]).encode(
        x=alt.X("x:Q", scale=sx(), axis=None), y=alt.Y("y0:Q", scale=sy(), axis=None), y2="y1:Q"))
    hdf = pd.DataFrame({"y": [CUTOFF], "x0": [0], "x1": [100]})
    out.append(alt.Chart(hdf).mark_rule(color="#ee3a3a", strokeWidth=1.3, strokeDash=[5, 3]).encode(
        x=alt.X("x0:Q", scale=sx(), axis=None), x2="x1:Q", y=alt.Y("y:Q", scale=sy(), axis=None)))
    cb = pd.DataFrame({"b0": [5 * i for i in range(20)], "b1": [5 * i + 5 for i in range(20)],
                       "c": [5 * i + 2.5 for i in range(20)]})
    out.append(alt.Chart(cb).mark_rect().encode(
        x=alt.X("b0:Q", scale=sx(), axis=None), x2="b1:Q",
        y=alt.value(CB_Y[0]), y2=alt.value(CB_Y[1]),
        color=alt.Color("c:Q", scale=alt.Scale(**grad_scale), legend=None)))
    bd = pd.DataFrame({"b0": [0], "b1": [100]})
    out.append(alt.Chart(bd).mark_rect(fillOpacity=0, stroke="#111", strokeWidth=1.3).encode(
        x=alt.X("b0:Q", scale=sx(), axis=None), x2="b1:Q",
        y=alt.value(CB_Y[0]), y2=alt.value(CB_Y[1])))
    out += mixed(ytitle, (xr[0] - 27.6), ycenter, 10.5, angle=270, color="#333")
    out += mixed(xtitle, (xr[0] + xr[1]) / 2, 1130, 10.5, color="#333")
    return out


layers += scatter(LOG_POINTS + LOG_CORE, S1_X,
                  [("In vitro", True), (" RT-PCR based log ", False), ("Mtb", True), (" transcriptomes", False)],
                  969, [("In vivo median", True), (" expression ranks", False)])
layers += scatter(NRP2_POINTS + NRP2_CORE, S2_X,
                  [("In vitro", True), (" RT-PCR based NRP2 ", False), ("Mtb", True), (" transcriptomes", False)],
                  975.5, [("In vivo", True), (" median expression ranks", False)])

# ---------------- arrows ----------------
ARC1 = [(302, 825), (330, 813), (400, 793), (490, 783), (580, 786), (650, 797), (707, 810), (740, 823), (768, 838)]
ARC2 = [(622, 830), (640, 827.3), (673, 824.5), (707, 825), (740, 831), (768, 839)]
for arc in (ARC1, ARC2):
    adf = pd.DataFrame([(x, y, i) for i, (x, y) in enumerate(arc)], columns=["px", "py", "o"])
    layers.append(alt.Chart(adf).mark_line(color="#111", strokeWidth=1.1, interpolate="natural").encode(
        x=alt.X("px:Q", scale=None, axis=None), y=alt.Y("py:Q", scale=None, axis=None), order="o:Q"))
layers.append(alt.Chart(pd.DataFrame({"px": [771.6], "py": [840.2]})).mark_point(
    shape="M-1,-0.6L1,0L-1,0.6Z", filled=True, color="#111", opacity=1, size=150, angle=28).encode(
    x=alt.X("px:Q", scale=None, axis=None), y=alt.Y("py:Q", scale=None, axis=None)))

# ---------------- Venn ----------------


def circ(c, n=720):
    t = np.linspace(0, 2 * np.pi, n, endpoint=False)
    return np.c_[c[0] + VR * np.cos(t), c[1] + VR * np.sin(t)]


def region_poly(keys):
    parts = []
    for k in keys:
        P = circ(VC[k])
        m = np.ones(len(P), bool)
        for o in keys:
            if o != k:
                m &= (P[:, 0] - VC[o][0]) ** 2 + (P[:, 1] - VC[o][1]) ** 2 <= VR ** 2
        parts.append(P[m])
    P = np.vstack(parts)
    c = P.mean(0)
    P = P[np.argsort(np.arctan2(P[:, 1] - c[1], P[:, 0] - c[0]))]
    ring = [[float(x), float(y)] for x, y in P]
    return ring + [ring[0]]


feats = []
for k, cnt in zip(VENN_KEYS, VENN_COUNT):
    feats.append({"type": "Feature", "properties": {"count": cnt},
                  "geometry": {"type": "Polygon", "coordinates": [region_poly(list(k))]}})
outline = [{"type": "Feature", "properties": {"k": k},
            "geometry": {"type": "Polygon", "coordinates": [region_poly([k])]}} for k in "TLR"]
count_scale = alt.Scale(domain=[1, 18, 35], range=["#ffffff", "#f4978a", "#ee3239"], interpolate="rgb")
layers.append(alt.Chart(alt.Data(values=feats)).mark_geoshape(strokeWidth=0).encode(
    color=alt.Color("properties.count:Q", scale=count_scale, legend=alt.Legend(
        title="count", orient="none", legendX=COUNT_BAR["x"], legendY=854.5, direction="vertical",
        gradientLength=COUNT_BAR["len"], gradientThickness=COUNT_BAR["thick"], values=COUNT_TICKS,
        labelExpr="format(datum.value, '~g')",
        titleFont=FONT, titleFontSize=10.5, titleFontWeight="normal", titleColor="#333", titlePadding=4,
        labelFont=FONT, labelFontSize=10.5, labelColor="#333", labelOffset=4,
        gradientStrokeColor="#333", gradientStrokeWidth=1, padding=0))).project(
    type="identity", scale=1, translate=[0, 0]))
layers.append(alt.Chart(alt.Data(values=outline)).mark_geoshape(
    filled=False, stroke="#111", strokeWidth=1.2).project(type="identity", scale=1, translate=[0, 0]))
layers += bar_ticks(COUNT_TICKS, [1, 35], COUNT_BAR)

gx, gy = np.meshgrid(np.arange(745, 936, 0.5), np.arange(800, 990, 0.5))


def _ins(k):
    return (gx - VC[k][0]) ** 2 + (gy - VC[k][1]) ** 2 <= VR ** 2


iT, iL, iR = _ins("T"), _ins("L"), _ins("R")
masks = {"T": iT & ~iL & ~iR, "L": iL & ~iT & ~iR, "R": iR & ~iT & ~iL, "TL": iT & iL & ~iR,
         "TR": iT & iR & ~iL, "LR": iL & iR & ~iT, "TLR": iT & iL & iR}
vrows = []
for k, cnt, pct in zip(VENN_KEYS, VENN_COUNT, VENN_PCT):
    cx, cy = gx[masks[k]].mean(), gy[masks[k]].mean()
    vrows.append((float(cx), float(cy) - 6.2, str(cnt)))
    vrows.append((float(cx), float(cy) + 6.2, f"({pct})"))
layers.append(text_layer(vrows, 11.5, align="center", color="#222"))
layers.append(text_layer([(840, 796.7, "in vivo")], 11, weight="bold", style="italic", align="center", color="#111"))
layers.append(text_layer([(762, 991.7, "Log"), (922, 991.7, "NRP2")], 11, weight="bold", align="center", color="#111"))

chart = alt.layer(*layers).properties(width=W, height=H).resolve_scale(
    x="independent", y="independent", color="independent").configure(
    background="white", padding=0, autosize=alt.AutoSizeParams(type="none")).configure_view(stroke=None)

chart.save("out.html", embed_options={"renderer": "svg", "actions": False})
